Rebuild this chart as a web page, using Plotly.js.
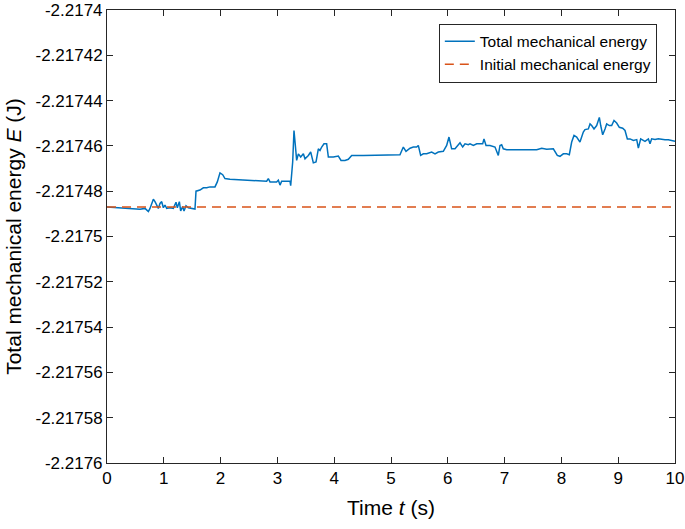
<!DOCTYPE html>
<html>
<head>
<meta charset="utf-8">
<script src="https://cdn.plot.ly/plotly-3.0.1.min.js"></script>
<style>
html,body{margin:0;padding:0;background:#fff;}
#chart{width:685px;height:529px;}
</style>
</head>
<body>
<div id="chart"></div>
<script>
// Time (s)
const timeS = [0,0.229,0.522,0.581,0.669,0.728,0.757,0.816,0.845,0.875,0.904,0.933,0.963,0.992,1.021,1.051,1.109,1.168,1.215,1.238,1.274,1.297,1.332,1.356,1.391,1.432,1.491,1.549,1.567,1.637,1.696,1.755,1.813,1.901,1.942,1.989,2.037,2.077,2.165,2.342,2.518,2.694,2.811,2.84,2.87,2.987,3.016,3.046,3.075,3.222,3.234,3.269,3.292,3.316,3.339,3.369,3.41,3.457,3.486,3.545,3.586,3.633,3.68,3.721,3.75,3.78,3.82,3.867,3.897,3.985,4.073,4.12,4.19,4.249,4.308,4.513,4.806,5.1,5.158,5.217,5.264,5.335,5.393,5.452,5.481,5.522,5.569,5.628,5.716,5.775,5.833,5.921,5.98,6.021,6.068,6.127,6.185,6.215,6.262,6.303,6.361,6.391,6.45,6.509,6.614,6.637,6.673,6.743,6.831,6.889,6.919,6.948,6.977,7.037,7.271,7.565,7.653,7.741,7.858,7.887,7.928,7.975,8.034,8.093,8.139,8.181,8.222,8.269,8.327,8.386,8.415,8.474,8.504,8.533,8.574,8.621,8.668,8.692,8.727,8.768,8.797,8.843,8.885,8.926,8.973,9.02,9.079,9.12,9.161,9.208,9.267,9.326,9.355,9.396,9.472,9.531,9.56,9.589,9.648,9.706,9.765,9.824,9.883,9.941,9.982,10];
// Total mechanical energy (J)
const totalEnergy = [-2.217487,-2.2174873,-2.2174876,-2.217488,-2.2174876,-2.217489,-2.2174876,-2.2174835,-2.2174846,-2.2174861,-2.2174876,-2.2174854,-2.2174846,-2.2174873,-2.2174861,-2.2174876,-2.2174873,-2.2174876,-2.2174849,-2.2174873,-2.2174846,-2.2174887,-2.2174868,-2.2174887,-2.2174864,-2.2174873,-2.2174876,-2.2174879,-2.21748,-2.2174795,-2.2174785,-2.2174785,-2.2174781,-2.2174781,-2.2174759,-2.2174719,-2.2174727,-2.2174744,-2.2174747,-2.2174749,-2.2174751,-2.2174753,-2.2174756,-2.2174744,-2.2174759,-2.2174759,-2.2174751,-2.2174773,-2.2174756,-2.2174756,-2.2174776,-2.2174671,-2.2174532,-2.2174598,-2.2174664,-2.2174635,-2.2174649,-2.2174635,-2.2174657,-2.2174642,-2.2174627,-2.2174675,-2.2174671,-2.2174613,-2.217462,-2.2174605,-2.2174591,-2.2174591,-2.2174649,-2.2174649,-2.2174645,-2.2174664,-2.2174664,-2.2174659,-2.2174642,-2.2174642,-2.2174642,-2.2174642,-2.2174639,-2.2174605,-2.2174624,-2.217461,-2.2174605,-2.2174605,-2.2174598,-2.2174642,-2.2174635,-2.2174635,-2.2174627,-2.2174635,-2.2174627,-2.2174624,-2.2174598,-2.2174561,-2.2174613,-2.2174613,-2.2174598,-2.2174586,-2.2174605,-2.2174591,-2.2174595,-2.2174591,-2.2174598,-2.2174591,-2.2174591,-2.2174569,-2.2174598,-2.2174598,-2.2174605,-2.2174642,-2.2174598,-2.2174595,-2.2174613,-2.2174617,-2.2174617,-2.2174617,-2.217461,-2.2174615,-2.2174613,-2.2174627,-2.2174642,-2.2174646,-2.2174635,-2.2174635,-2.2174639,-2.2174583,-2.2174554,-2.2174561,-2.2174583,-2.2174539,-2.2174528,-2.2174525,-2.2174503,-2.217451,-2.2174525,-2.217451,-2.2174474,-2.217451,-2.2174551,-2.2174525,-2.2174503,-2.217451,-2.217451,-2.2174488,-2.2174499,-2.2174518,-2.2174522,-2.2174532,-2.2174569,-2.2174569,-2.2174576,-2.2174572,-2.217461,-2.2174569,-2.217458,-2.2174569,-2.2174591,-2.2174569,-2.2174572,-2.2174569,-2.2174572,-2.2174573,-2.2174573,-2.2174576,-2.217458,-2.217458];
// Initial mechanical energy (J)
const initialEnergy = -2.217487;
const initialTime = [0, 10];

const yTickVals = [-2.2174,-2.21742,-2.21744,-2.21746,-2.21748,-2.2175,-2.21752,-2.21754,-2.21756,-2.21758,-2.2176];
const yTickText = ['-2.2174','-2.21742','-2.21744','-2.21746','-2.21748','-2.2175','-2.21752','-2.21754','-2.21756','-2.21758','-2.2176'];
const xTickVals = [0,1,2,3,4,5,6,7,8,9,10];

const FONT = 'Liberation Sans, Arial, Helvetica, sans-serif';

const traces = [
  {
    x: timeS, y: totalEnergy, type: 'scatter', mode: 'lines',
    name: 'Total mechanical energy',
    line: {color: '#0072BD', width: 1.5}
  },
  {
    x: initialTime, y: initialTime.map(() => initialEnergy), type: 'scatter', mode: 'lines',
    name: 'Initial mechanical energy',
    line: {color: '#D95319', width: 1.5, dash: '9px,6px'}
  }
];

const layout = {
  width: 685, height: 529,
  margin: {l: 107, r: 10, t: 10, b: 66},
  paper_bgcolor: '#fff', plot_bgcolor: '#fff',
  font: {family: FONT, color: '#000', size: 17},
  showlegend: true,
  legend: {
    x: 0.968, xanchor: 'right', y: 0.97, yanchor: 'top',
    bgcolor: '#fff', bordercolor: '#262626', borderwidth: 1,
    font: {family: FONT, size: 15.5, color: '#000'},
    tracegroupgap: 0
  },
  xaxis: {
    range: [0, 10], tickvals: xTickVals, ticktext: xTickVals.map(String),
    ticks: 'inside', ticklen: 6, tickcolor: '#262626', tickwidth: 1,
    showline: true, linecolor: '#262626', linewidth: 1, mirror: 'ticks',
    showgrid: false, zeroline: false, ticklabeloverflow: 'allow',
    tickfont: {family: FONT, size: 17, color: '#000'},
    title: {text: 'Time <i>t</i> (s)', font: {family: FONT, size: 21, color: '#000'}, standoff: 12}
  },
  yaxis: {
    range: [-2.2176000001, -2.2173999999], tickvals: yTickVals, ticktext: yTickText,
    ticks: 'inside', ticklen: 6, tickcolor: '#262626', tickwidth: 1,
    showline: true, linecolor: '#262626', linewidth: 1, mirror: 'ticks',
    showgrid: false, zeroline: false, ticklabeloverflow: 'allow',
    tickfont: {family: FONT, size: 17, color: '#000'},
    title: {text: 'Total mechanical energy <i>E</i> (J)', font: {family: FONT, size: 21, color: '#000'}, standoff: 8}
  }
};

Plotly.newPlot('chart', traces, layout, {displayModeBar: false, staticPlot: true});
</script>
</body>
</html>
